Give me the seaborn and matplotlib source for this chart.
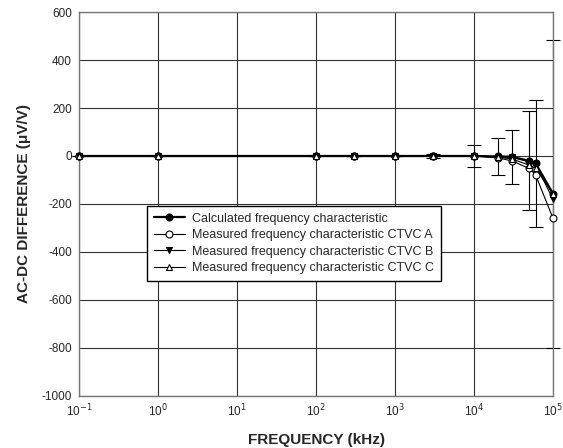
import numpy as np
import pandas as pd
import matplotlib
matplotlib.use("Agg")
import matplotlib.pyplot as plt
import seaborn as sns

sns.set_style("white")
plt.rcParams['font.family'] = ['Liberation Sans', 'DejaVu Sans']
plt.rcParams['axes.unicode_minus'] = False

# frequency in kHz
freq = [0.1, 1, 100, 300, 1000, 3000, 10000, 20000, 30000, 50000, 60000, 100000]
calc = [0, 0, 0, 0, 0, 0, 0, -2, -3, -20, -30, -157]
ctvc_a = [0, 0, 0, 0, 0, 0, 0, -8, -20, -52, -78, -260]
ctvc_b = [0, 0, 0, 0, 0, 0, 0, -3, -5, -25, -35, -180]
ctvc_c = [0, 0, 0, 0, 0, 0, 0, -5, -12, -38, -50, -158]
calc_err = [0, 0, 0, 0, 0, 10, 44, 79, 112, 206, 264, 641]

labels = ["Calculated frequency characteristic",
          "Measured frequency characteristic CTVC A",
          "Measured frequency characteristic CTVC B",
          "Measured frequency characteristic CTVC C"]
xtick_labels = ['10$^{-1}$', '10$^{0}$', '10$^{1}$', '10$^{2}$',
                '10$^{3}$', '10$^{4}$', '10$^{5}$']

fig = plt.figure(figsize=(5.63, 4.48), dpi=100)
ax = fig.add_axes([0.1403, 0.1161, 0.842, 0.8571])

eb = ax.errorbar(freq, calc, yerr=calc_err, fmt='none', ecolor='black',
                 elinewidth=0.8, capsize=5, capthick=0.8, zorder=2)
for part in eb.get_children():
    part.set_clip_on(False)

series = [
    (calc, labels[0], 'o', 'black', 1.6),
    (ctvc_a, labels[1], 'o', 'white', 0.8),
    (ctvc_b, labels[2], 'v', 'black', 0.8),
    (ctvc_c, labels[3], '^', 'white', 0.8),
]
for vals, lab, mk, fc, lw in series:
    df = pd.DataFrame({'freq': freq, 'val': vals})
    sns.lineplot(data=df, x='freq', y='val', ax=ax, color='black', lw=lw,
                 marker=mk, markersize=5, markerfacecolor=fc,
                 markeredgecolor='black', markeredgewidth=0.8,
                 label=lab, zorder=3, clip_on=False)

ax.set_xscale('log')
ax.set_xlim(0.1, 1e5)
ax.set_ylim(-1000, 600)
ax.set_yticks(np.arange(-1000, 601, 200))
ax.set_xticks([10.0 ** k for k in range(-1, 6)])
ax.set_xticklabels(xtick_labels)
ax.minorticks_off()
ax.grid(True, color='#333333', lw=0.8)
for s in ax.spines.values():
    s.set_color('#777777')
    s.set_linewidth(1.0)
ax.tick_params(length=0, labelsize=8.5, pad=5)

ax.set_xlabel('FREQUENCY (kHz)', fontsize=11, fontweight='bold', labelpad=10)
ax.set_ylabel('AC-DC DIFFERENCE (\u03bcV/V)', fontsize=11, fontweight='bold', labelpad=8)

leg = ax.legend(loc='upper left', bbox_to_anchor=(0.143, 0.495), fontsize=9,
                frameon=True, fancybox=False, edgecolor='black',
                borderaxespad=0, handlelength=2.5, labelspacing=0.35,
                borderpad=0.55, handletextpad=0.6)
leg.get_frame().set_linewidth(1.0)
leg.get_frame().set_alpha(1)

fig.savefig('out.png', dpi=100)
